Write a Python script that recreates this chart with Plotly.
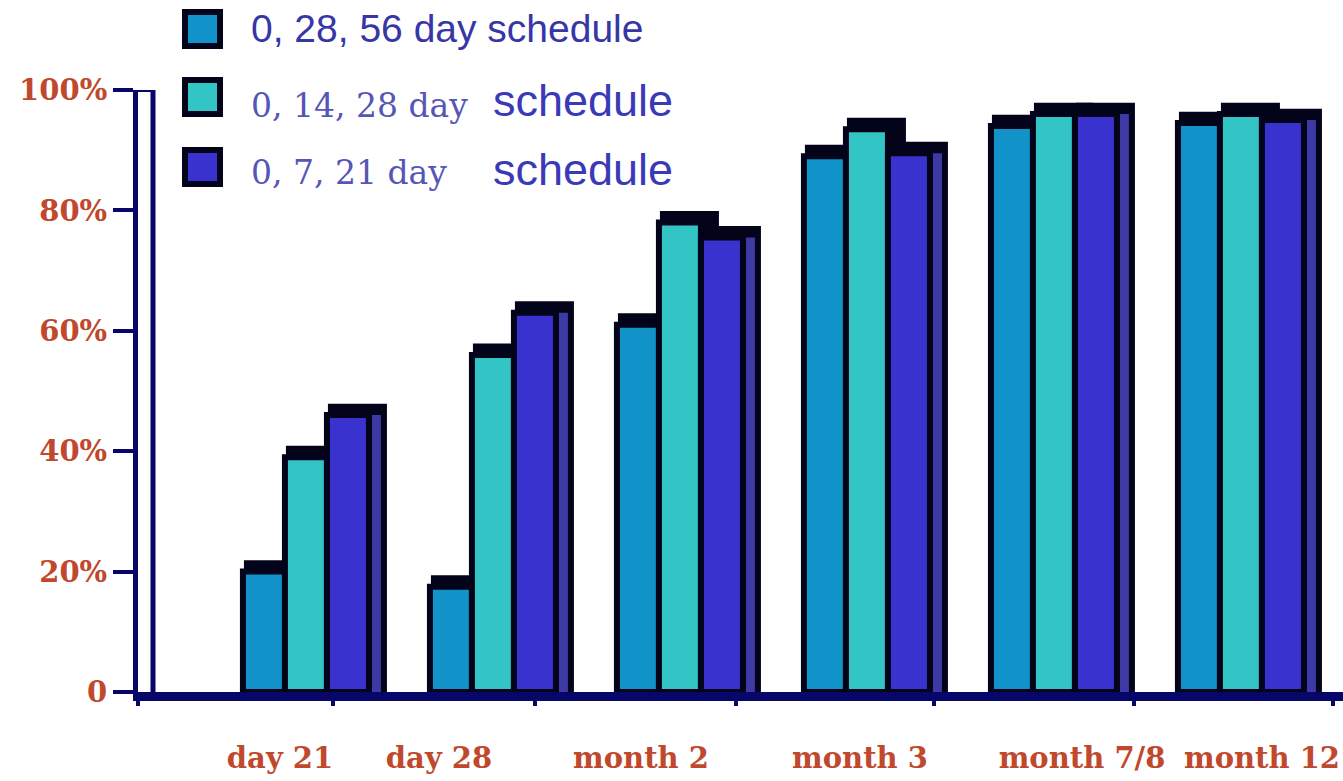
import plotly.graph_objects as go

# ---------------- data ----------------
categories = ["day 21", "day 28", "month 2", "month 3", "month 7/8", "month 12"]
series_names = ["0, 28, 56 day schedule", "0, 14, 28 day schedule", "0, 7, 21 day schedule"]
sched_28_56 = [20, 17.5, 61, 89, 94, 94.5]
sched_14_28 = [39, 56, 78, 93.5, 96, 96]
sched_7_21 = [46, 63, 75.5, 89.5, 96, 95]
y_tick_vals = [0, 20, 40, 60, 80, 100]
y_tick_text = ["0", "20%", "40%", "60%", "80%", "100%"]

series_values = [sched_28_56, sched_14_28, sched_7_21]

# ---------------- style / layout constants ----------------
W, H = 1343, 781
PLOT_L, PLOT_T, PLOT_B = 138, 90, 692
PLOT_W = W - PLOT_L
PLOT_H = PLOT_B - PLOT_T
UNIT_PX = 187.0            # pixels per category step
X0 = 0.102                 # x value at the left edge of the plot
X1 = X0 + PLOT_W / UNIT_PX

front_colors = ["#1193c9", "#33c5c6", "#3a32cf"]
side_color = "#3d3aa5"
outline = "#03031a"
navy = "#07076a"
red = "#c0482c"

label_px = [280, 439, 641, 860, 1082, 1262]          # tick label centres (layout)
boundary_px = [138, 333, 535, 736, 934, 1134, 1333]  # tick marks (layout)


def px2x(px):
    return X0 + (px - PLOT_L) / UNIT_PX


def pxw(px):
    return px / UNIT_PX


def paper_x(px):
    return (px - PLOT_L) / PLOT_W


def paper_y(py):
    return (PLOT_B - py) / PLOT_H


BAR_W = pxw(42)
DEPTH_DY = 1.4
x_pos = [i + 1 for i in range(len(categories))]

fig = go.Figure()

# depth (3D cap) bars behind
for k, vals in enumerate(series_values):
    off = -1.5 * BAR_W + k * BAR_W
    fig.add_trace(go.Bar(
        x=x_pos, y=[v + DEPTH_DY for v in vals],
        offset=off + pxw(4), width=BAR_W + pxw(11),
        marker=dict(color=outline, line=dict(color=outline, width=6)),
        showlegend=False, hoverinfo="skip"))

# front faces
for k, vals in enumerate(series_values):
    off = -1.5 * BAR_W + k * BAR_W
    fig.add_trace(go.Bar(
        x=x_pos, y=vals, offset=off, width=BAR_W,
        marker=dict(color=front_colors[k], line=dict(color=outline, width=6)),
        name=series_names[k], showlegend=False, hoverinfo="skip"))

# side face of the last bar in each group (on the overlay axis)
off_last = -1.5 * BAR_W + 2 * BAR_W
fig.add_trace(go.Bar(
    x=x_pos, y=series_values[2], offset=off_last + BAR_W + pxw(3), width=pxw(9),
    marker=dict(color=side_color, line=dict(width=0)),
    xaxis="x2", showlegend=False, hoverinfo="skip"))

serif = "DejaVu Serif"
sans = "Liberation Sans, Arial, sans-serif"

fig.update_layout(
    width=W, height=H, autosize=False,
    margin=dict(l=PLOT_L, r=0, t=PLOT_T, b=H - PLOT_B),
    paper_bgcolor="white", plot_bgcolor="white",
    barmode="overlay",
    xaxis=dict(
        range=[X0, X1], tickmode="array",
        tickvals=[px2x(p) for p in label_px], ticktext=categories,
        ticks="outside", ticklen=32, tickcolor="rgba(0,0,0,0)", tickangle=0,
        tickfont=dict(family=serif, size=29, color=red, weight="bold"),
        showline=True, linecolor=navy, linewidth=9,
        showgrid=False, zeroline=False, fixedrange=True),
    xaxis2=dict(
        range=[X0, X1], overlaying="x", anchor="y", side="bottom",
        tickmode="array", tickvals=[px2x(p) for p in boundary_px],
        ticks="outside", ticklen=13, tickwidth=4, tickcolor=navy,
        showticklabels=False, showline=False, showgrid=False, zeroline=False,
        fixedrange=True),
    yaxis=dict(
        range=[0, 100], tickmode="array", tickvals=y_tick_vals, ticktext=y_tick_text,
        ticks="outside", ticklen=20, tickwidth=4, tickcolor=navy,
        tickfont=dict(family=serif, size=29, color=red, weight="bold"),
        showline=True, linecolor=navy, linewidth=5,
        showgrid=False, zeroline=False, fixedrange=True),
)

# inner wall line of the y axis and its top connector
fig.add_shape(type="line", xref="paper", yref="y",
              x0=paper_x(153), x1=paper_x(153), y0=0, y1=100,
              line=dict(color=navy, width=5))
fig.add_shape(type="line", xref="paper", yref="y",
              x0=paper_x(136), x1=paper_x(155), y0=100, y1=100,
              line=dict(color=navy, width=4))

# legend: swatches + text
sw_y = [(12, 46), (80, 114), (150, 184)]
for k in range(3):
    y0, y1 = sw_y[k]
    fig.add_shape(type="rect", xref="paper", yref="paper",
                  x0=paper_x(185), x1=paper_x(220), y0=paper_y(y1), y1=paper_y(y0),
                  fillcolor=front_colors[k], line=dict(color=outline, width=6))

# first entry: sans throughout
fig.add_annotation(xref="paper", yref="paper", x=paper_x(249), y=paper_y(28),
                   xanchor="left", yanchor="middle", showarrow=False,
                   text=series_names[0],
                   font=dict(family=sans, size=39, color="#3636a6"))
# other entries: serif prefix + sans "schedule"
text_y = [(105, 101), (172, 169)]
for k in (1, 2):
    prefix, last = series_names[k].rsplit(" ", 1)
    ty_pre, ty_last = text_y[k - 1]
    fig.add_annotation(xref="paper", yref="paper", x=paper_x(249), y=paper_y(ty_pre),
                       xanchor="left", yanchor="middle", showarrow=False,
                       text=prefix,
                       font=dict(family=serif, size=33, color="#5656b6"))
    fig.add_annotation(xref="paper", yref="paper", x=paper_x(491), y=paper_y(ty_last),
                       xanchor="left", yanchor="middle", showarrow=False,
                       text=last,
                       font=dict(family=sans, size=45, color="#3a3ab8"))

fig.write_html(
    "out.html",
    config={"displayModeBar": False},
    post_script="document.body.style.margin='0';document.body.style.overflow='hidden';",
)
